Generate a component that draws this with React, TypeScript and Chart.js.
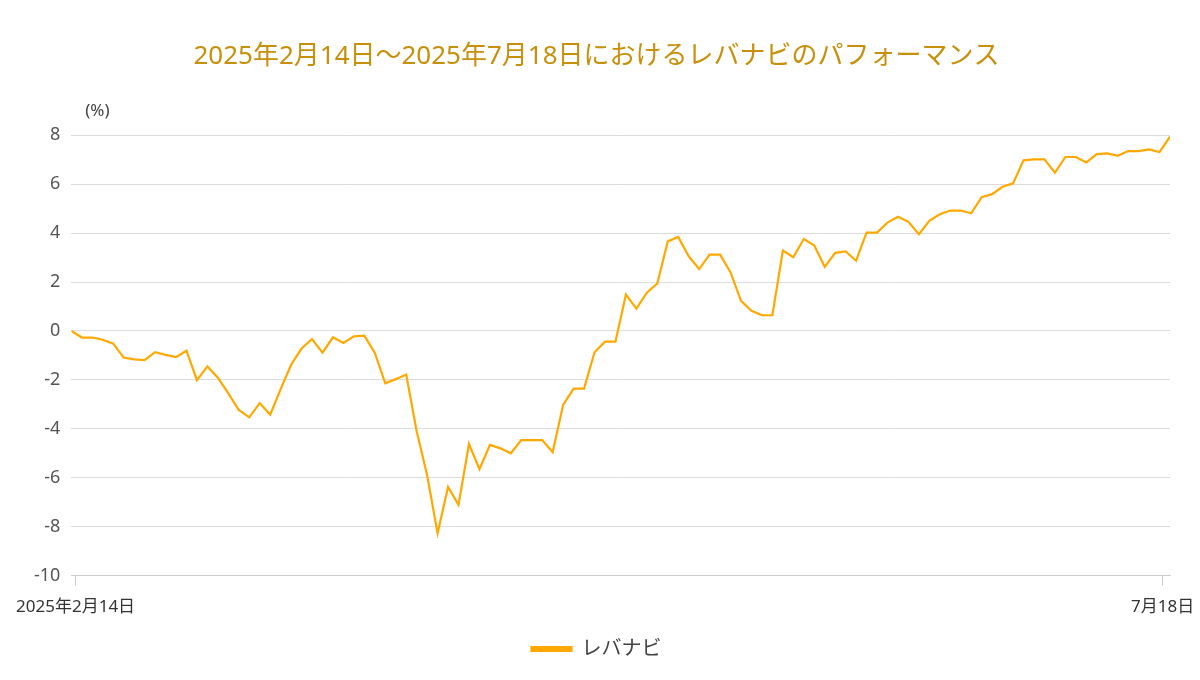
import React, { useEffect, useRef } from "react";
import { Chart, registerables } from "chart.js";

Chart.register(...registerables);

const titleText = "2025年2月14日～2025年7月18日におけるレバナビのパフォーマンス";
const seriesName = "レバナビ";
const unitLabel = "(%)";
const xTickLabels = ["2025年2月14日", "7月18日"];
const xTickIndex = [0.4, 104.3];
const yTicks = { min: -10, max: 8, step: 2 };

const performance = [
  0, -0.27, -0.27, -0.36, -0.52, -1.09, -1.16, -1.19, -0.87, -0.98,
  -1.07, -0.81, -2.01, -1.45, -1.91, -2.55, -3.23, -3.53, -2.95, -3.42,
  -2.38, -1.38, -0.72, -0.33, -0.89, -0.26, -0.49, -0.22, -0.19, -0.9,
  -2.14, -1.97, -1.78, -4.1, -5.9, -8.27, -6.38, -7.11, -4.62, -5.65,
  -4.66, -4.8, -5.0, -4.46, -4.46, -4.46, -4.95, -3.02, -2.36, -2.36,
  -0.87, -0.44, -0.44, 1.49, 0.91, 1.56, 1.94, 3.66, 3.84, 3.05,
  2.53, 3.12, 3.12, 2.39, 1.23, 0.82, 0.64, 0.64, 3.28, 3.01,
  3.76, 3.49, 2.62, 3.19, 3.25, 2.87, 4.02, 4.02, 4.43, 4.67,
  4.46, 3.95, 4.5, 4.77, 4.92, 4.92, 4.81, 5.47, 5.59, 5.89,
  6.03, 6.97, 7.01, 7.01, 6.47, 7.11, 7.11, 6.89, 7.23, 7.26,
  7.16, 7.35, 7.35, 7.42, 7.31, 7.94,
];

const FONT = "'Noto Sans', 'Noto Sans CJK JP', sans-serif";
const LINE_COLOR = "#FFA800";

export default function App() {
  const ref = useRef<HTMLCanvasElement>(null);

  useEffect(() => {
    document.body.style.margin = "0";
    if (!ref.current) return;
    const unitPlugin = {
      id: "unitLabel",
      afterDraw(chart: any) {
        const { ctx, chartArea } = chart;
        ctx.save();
        ctx.font = `17px ${FONT}`;
        ctx.fillStyle = "#444";
        ctx.textAlign = "center";
        ctx.textBaseline = "middle";
        ctx.fillText(unitLabel, chartArea.left + 26, chartArea.top - 24);
        ctx.restore();
      },
    };
    const chart = new Chart(ref.current, {
      type: "line",
      data: {
        datasets: [
          {
            label: seriesName,
            data: performance.map((v, i) => ({ x: i, y: v })),
            borderColor: LINE_COLOR,
            backgroundColor: LINE_COLOR,
            borderWidth: 2.2,
            pointRadius: 0,
            tension: 0,
          },
        ],
      },
      options: {
        animation: false,
        responsive: false,
        layout: { padding: { left: 23, right: 30, top: 0, bottom: 11 } },
        plugins: {
          title: {
            display: true,
            text: titleText,
            color: "#C8900A",
            font: { family: FONT, size: 26, weight: "normal" as any },
            padding: { top: 41, bottom: 63 },
          },
          legend: {
            position: "bottom",
            labels: {
              boxWidth: 40,
              boxHeight: 4,
              padding: 10,
              color: "#444",
              font: { family: FONT, size: 20 },
            },
          },
          tooltip: { enabled: false },
        },
        scales: {
          x: {
            type: "linear",
            min: 0,
            max: performance.length - 1,
            afterBuildTicks: (scale: any) => {
              scale.ticks = xTickIndex.map((v) => ({ value: v }));
            },
            afterFit: (scale: any) => {
              scale.height += 1;
              scale.paddingRight = 0;
            },
            grid: {
              drawOnChartArea: false,
              drawTicks: true,
              tickLength: 10,
              color: "#cccccc",
            },
            border: { color: "#cccccc" },
            ticks: {
              padding: 11,
              maxRotation: 0,
              autoSkip: false,
              color: "#333",
              font: { family: FONT, size: 17 },
              callback: (value: any) => {
                const idx = xTickIndex.indexOf(Number(value));
                return idx >= 0 ? xTickLabels[idx] : "";
              },
            },
          },
          y: {
            min: yTicks.min,
            max: yTicks.max,
            grid: { color: "#dcdcdc", drawTicks: false },
            border: { display: false },
            ticks: {
              stepSize: yTicks.step,
              padding: 11,
              color: "#555",
              font: { family: FONT, size: 18 },
            },
          },
        },
      },
      plugins: [unitPlugin],
    });
    return () => chart.destroy();
  }, []);

  return (
    <div style={{ width: 1200, height: 680 }}>
      <canvas ref={ref} width={1200} height={680} style={{ width: 1200, height: 680 }} />
    </div>
  );
}
